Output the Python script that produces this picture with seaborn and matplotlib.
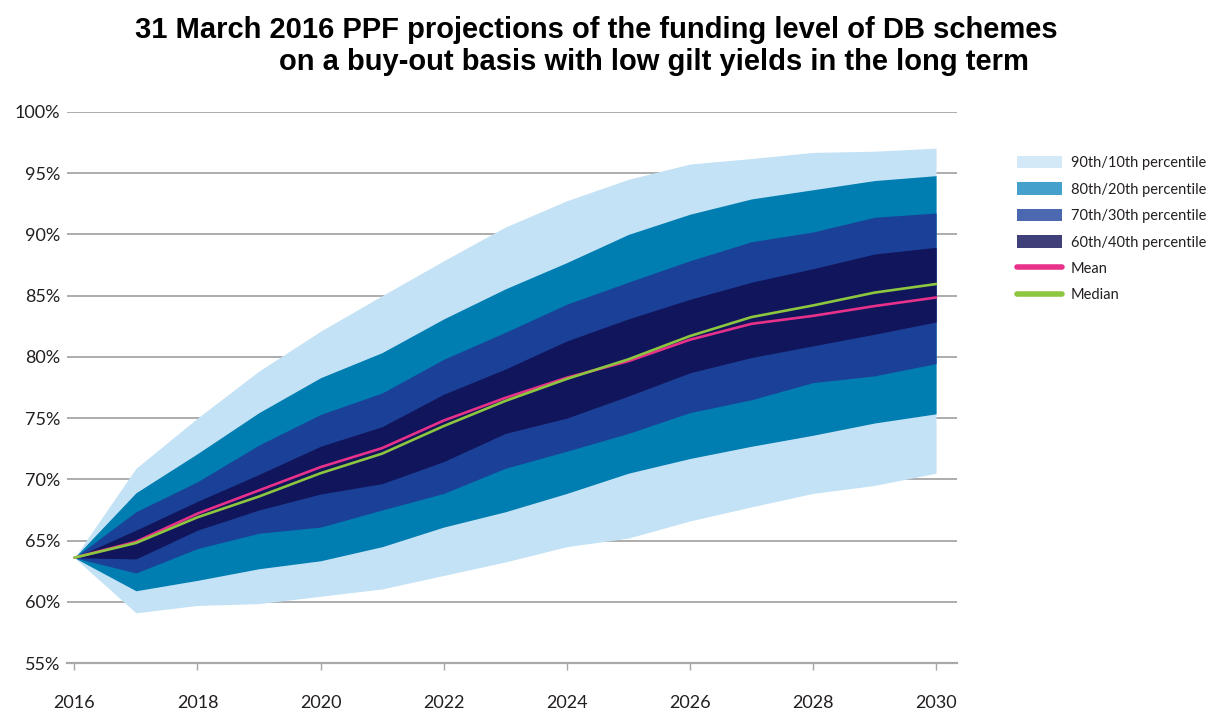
import numpy as np
import pandas as pd
import matplotlib
matplotlib.use("Agg")
import matplotlib.pyplot as plt
from matplotlib.patches import Patch
from matplotlib.lines import Line2D
import seaborn as sns

years = list(range(2016, 2031))
p10 = [63.6, 59.1, 59.7, 59.85, 60.45, 61.05, 62.15, 63.25, 64.5, 65.2, 66.6, 67.75, 68.85, 69.5, 70.5]
p20 = [63.6, 60.9, 61.75, 62.7, 63.35, 64.5, 66.1, 67.35, 68.85, 70.5, 71.7, 72.7, 73.6, 74.6, 75.35]
p30 = [63.6, 62.35, 64.35, 65.6, 66.1, 67.5, 68.85, 70.9, 72.3, 73.75, 75.45, 76.5, 77.9, 78.45, 79.45]
p40 = [63.6, 63.5, 65.85, 67.5, 68.8, 69.65, 71.45, 73.75, 75.0, 76.8, 78.7, 79.95, 80.9, 81.85, 82.85]
p60 = [63.6, 65.85, 68.2, 70.4, 72.7, 74.3, 76.95, 79.0, 81.3, 83.1, 84.7, 86.1, 87.2, 88.4, 88.95]
p70 = [63.6, 67.35, 69.8, 72.8, 75.3, 77.05, 79.8, 82.0, 84.3, 86.1, 87.85, 89.4, 90.2, 91.4, 91.75]
p80 = [63.6, 68.9, 72.1, 75.45, 78.3, 80.35, 83.1, 85.55, 87.7, 90.0, 91.65, 92.9, 93.65, 94.4, 94.8]
p90 = [63.6, 70.9, 75.0, 78.85, 82.1, 85.0, 87.85, 90.6, 92.75, 94.5, 95.75, 96.2, 96.7, 96.8, 97.05]
mean = [63.6, 64.9, 67.2, 69.1, 71.0, 72.55, 74.8, 76.65, 78.3, 79.65, 81.4, 82.7, 83.35, 84.15, 84.85]
median = [63.6, 64.8, 66.9, 68.6, 70.5, 72.1, 74.35, 76.4, 78.2, 79.8, 81.7, 83.25, 84.2, 85.25, 85.95]

band_labels = ["90th/10th percentile", "80th/20th percentile",
               "70th/30th percentile", "60th/40th percentile"]
band_colors = ["#c4e2f5", "#007db1", "#1b4097", "#11155b"]
legend_colors = ["#d4e9f7", "#45a0cb", "#4b68b0", "#3f4079"]
line_labels = ["Mean", "Median"]
line_colors = ["#e8318a", "#8dc63f"]
title_line1 = "31 March 2016 PPF projections of the funding level of DB schemes"
title_line2 = "on a buy-out basis with low gilt yields in the long term"

sns.set_theme(style="white")
plt.rcParams["font.family"] = ["Lato", "DejaVu Sans"]

df = pd.DataFrame({"year": years, "Mean": mean, "Median": median})
long = df.melt(id_vars="year", var_name="stat", value_name="value")

fig = plt.figure(figsize=(12.13, 7.11), dpi=100)
ax = fig.add_axes([67/1213, 1 - 663/711, (957 - 67)/1213, (663 - 112)/711])

bands = [(p10, p90), (p20, p80), (p30, p70), (p40, p60)]
for (lo, hi), c in zip(bands, band_colors):
    ax.fill_between(years, lo, hi, color=c, linewidth=0, zorder=2)

sns.lineplot(data=long, x="year", y="value", hue="stat",
             palette=dict(zip(line_labels, line_colors)),
             linewidth=1.9, ax=ax, legend=False, zorder=3)

ax.set_xlim(2015.88, 2030.34)
ax.set_ylim(55, 100)
ax.set_yticks(np.arange(55, 101, 5))
ax.set_yticklabels([f"{v}%" for v in range(55, 101, 5)])
ax.set_xticks(range(2016, 2031, 2))
ax.set_xlabel("")
ax.set_ylabel("")
ax.grid(axis="y", color="#9e9e9e", linewidth=1.2)
ax.grid(axis="x", visible=False)
ax.set_axisbelow(True)
for s in ["top", "right", "left"]:
    ax.spines[s].set_visible(False)
ax.spines["bottom"].set_color("#a8a8a8")
ax.spines["bottom"].set_linewidth(1.6)
ax.tick_params(axis="y", length=0, pad=5, labelsize=13, labelcolor="#231f20")
ax.tick_params(axis="x", length=5, width=1, color="#a8a8a8", direction="out",
               pad=18, labelsize=13, labelcolor="#231f20", bottom=True)

fig.text(596/1213, 1 - 30/711, title_line1, ha="center", va="center", color="black",
         fontsize=21, fontweight="bold", family=["Liberation Sans", "DejaVu Sans"])
fig.text(654/1213, 1 - 62/711, title_line2, ha="center", va="center", color="black",
         fontsize=21, fontweight="bold", family=["Liberation Sans", "DejaVu Sans"])

handles = [Patch(facecolor=c, edgecolor="none") for c in legend_colors]
handles += [Line2D([0], [0], color=c, linewidth=4) for c in line_colors]
leg = fig.legend(handles, band_labels + line_labels, loc="upper left",
                 bbox_to_anchor=(1017/1213, 1 - 156/711), frameon=False,
                 fontsize=10.5, handlelength=3.1, handleheight=0.9,
                 handletextpad=0.6, labelspacing=0.85, borderaxespad=0, borderpad=0)
for t in leg.get_texts():
    t.set_color("#231f20")

fig.savefig("out.png", dpi=100)
